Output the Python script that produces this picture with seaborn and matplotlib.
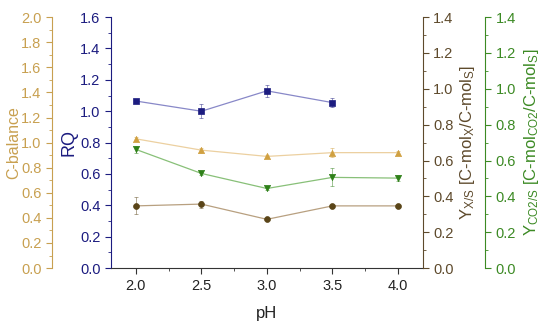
import matplotlib
matplotlib.use("Agg")
import matplotlib.pyplot as plt
from matplotlib.ticker import MultipleLocator
import seaborn as sns
import pandas as pd

sns.set_style("ticks")
plt.rcParams['font.family'] = ['Liberation Sans', 'DejaVu Sans']
plt.rcParams['mathtext.fontset'] = 'custom'
plt.rcParams['mathtext.rm'] = 'Liberation Sans'
plt.rcParams['mathtext.it'] = 'Liberation Sans:italic'

ph = [2.0, 2.5, 3.0, 3.5, 4.0]
ph_rq = [2.0, 2.5, 3.0, 3.5]
rq = [1.065, 1.0, 1.13, 1.055]
rq_err = [0.01, 0.045, 0.04, 0.03]
cbal = [1.03, 0.94, 0.89, 0.92, 0.92]
cbal_err = [0.015, 0.02, 0.01, 0.035, 0.01]
yxs = [0.347, 0.357, 0.272, 0.347, 0.347]
yxs_err = [0.048, 0.02, 0.005, 0.01, 0.012]
yco2 = [0.662, 0.528, 0.444, 0.506, 0.502]
yco2_err = [0.02, 0.01, 0.01, 0.05, 0.015]

c_rq, c_rq_line = '#1c1c80', '#8888c8'
c_cb, c_cb_line = '#d0a040', '#ecd0a0'
c_x, c_x_line = '#5a4518', '#b8a080'
c_co2, c_co2_line = '#2e8018', '#88c078'
c_x_axis = '#5e4a2c'
c_co2_axis = '#3c8a24'
c_cb_axis = '#c8a050'

fig = plt.figure(figsize=(5.5, 3.23), dpi=100)
ax = fig.add_axes([0.2018, 0.170, 0.567, 0.777])
ax_cb = ax.twinx()
ax_x = ax.twinx()
ax_co2 = ax.twinx()

def draw(a, xs, ys, errs, col, lcol, marker, ms):
    df = pd.DataFrame({'x': xs, 'y': ys})
    a.errorbar(xs, ys, yerr=errs, fmt='none', ecolor=col, elinewidth=0.6,
               capsize=1.5, capthick=0.6, alpha=0.55, zorder=2)
    sns.lineplot(data=df, x='x', y='y', ax=a, color=lcol, linewidth=0.9, zorder=3)
    sns.scatterplot(data=df, x='x', y='y', ax=a, color=col, marker=marker, s=ms,
                    edgecolor=col, linewidth=0.5, zorder=4)

draw(ax, ph_rq, rq, rq_err, c_rq, c_rq_line, 's', 14)
draw(ax_cb, ph, cbal, cbal_err, c_cb, c_cb_line, '^', 20)
draw(ax_x, ph, yxs, yxs_err, c_x, c_x_line, 'o', 18)
draw(ax_co2, ph, yco2, yco2_err, c_co2, c_co2_line, 'v', 20)

ax.set_xlim(1.81, 4.19)
ax.xaxis.set_minor_locator(MultipleLocator(0.25))
ax.set_xticks([2.0, 2.5, 3.0, 3.5, 4.0])
ax.set_xticklabels(['2.0', '2.5', '3.0', '3.5', '4.0'])
ax.set_xlabel('pH', fontsize=12, color='#222222', labelpad=10)

# RQ axis
ax.set_ylim(0, 1.6)
ax.yaxis.set_major_locator(MultipleLocator(0.2))
ax.yaxis.set_minor_locator(MultipleLocator(0.1))
ax.set_ylabel('RQ', fontsize=13, color=c_rq, labelpad=2)
ax.spines['top'].set_visible(False)
ax.spines['right'].set_visible(False)
ax.spines['left'].set_color(c_rq)
ax.spines['bottom'].set_color('#333333')
ax.tick_params(axis='y', which='both', colors=c_rq, labelsize=10.5, labelcolor=c_rq)
ax.tick_params(axis='y', which='major', length=4)
ax.tick_params(axis='y', which='minor', length=2.5)
ax.tick_params(axis='x', which='both', colors='#333333', labelsize=10.5, labelcolor='#222222')
ax.tick_params(axis='x', which='major', length=4)
ax.tick_params(axis='x', which='minor', length=2.5)

# C-balance axis (left outer)
ax_cb.set_ylim(0, 2.0)
ax_cb.yaxis.tick_left()
ax_cb.yaxis.set_label_position('left')
for s in ['top', 'right', 'bottom']:
    ax_cb.spines[s].set_visible(False)
ax_cb.spines['left'].set_visible(True)
ax_cb.spines['left'].set_position(('outward', 42.5))
ax_cb.spines['left'].set_color(c_cb_axis)
ax_cb.yaxis.set_major_locator(MultipleLocator(0.2))
ax_cb.yaxis.set_minor_locator(MultipleLocator(0.1))
ax_cb.tick_params(axis='y', which='both', colors=c_cb_axis, labelsize=10.5, labelcolor=c_cb_axis)
ax_cb.tick_params(axis='y', which='major', length=4)
ax_cb.tick_params(axis='y', which='minor', length=2.5)
ax_cb.set_ylabel('C-balance', fontsize=11.5, color=c_cb_axis)
ax_cb.yaxis.set_label_coords(-0.288, 0.5)

# Y_X/S axis (right inner)
ax_x.set_ylim(0, 1.4)
for s in ['top', 'left', 'bottom']:
    ax_x.spines[s].set_visible(False)
ax_x.spines['right'].set_color(c_x_axis)
ax_x.yaxis.set_major_locator(MultipleLocator(0.2))
ax_x.yaxis.set_minor_locator(MultipleLocator(0.1))
ax_x.tick_params(axis='y', which='both', colors=c_x_axis, labelsize=10.5, labelcolor=c_x_axis)
ax_x.tick_params(axis='y', which='major', length=4)
ax_x.tick_params(axis='y', which='minor', length=2.5)
ax_x.set_ylabel(r'Y$_{\mathrm{X/S}}$ [C-mol$_{\mathrm{X}}$/C-mol$_{\mathrm{S}}$]',
                fontsize=12, color=c_x_axis, labelpad=3)

# Y_CO2/S axis (right outer)
ax_co2.set_ylim(0, 1.4)
for s in ['top', 'left', 'bottom']:
    ax_co2.spines[s].set_visible(False)
ax_co2.spines['right'].set_position(('outward', 45))
ax_co2.spines['right'].set_color(c_co2_axis)
ax_co2.yaxis.set_major_locator(MultipleLocator(0.2))
ax_co2.yaxis.set_minor_locator(MultipleLocator(0.1))
ax_co2.tick_params(axis='y', which='both', colors=c_co2_axis, labelsize=10.5, labelcolor=c_co2_axis)
ax_co2.tick_params(axis='y', which='major', length=4)
ax_co2.tick_params(axis='y', which='minor', length=2.5)
ax_co2.set_ylabel(r'Y$_{\mathrm{CO2/S}}$ [C-mol$_{\mathrm{CO2}}$/C-mol$_{\mathrm{S}}$]',
                  fontsize=12, color=c_co2_axis, labelpad=4)

for a in [ax_cb, ax_x, ax_co2]:
    a.set_xlabel('')
    a.set_xlim(1.81, 4.19)

fig.savefig('out.png', dpi=100)
